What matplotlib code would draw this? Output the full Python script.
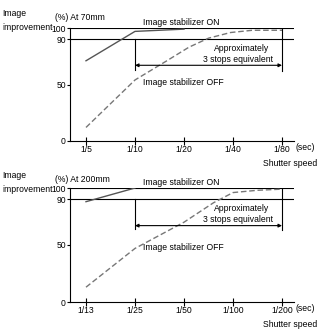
import matplotlib
matplotlib.use("Agg")
import matplotlib.pyplot as plt

plt.rcParams['font.family'] = ['Liberation Sans', 'DejaVu Sans']

# Data
top_ticks = ["1/5", "1/10", "1/20", "1/40", "1/80"]
bot_ticks = ["1/13", "1/25", "1/50", "1/100", "1/200"]
yticks = [0, 50, 90, 100]

top_on_x = [0, 1, 2]
top_on_y = [71, 97, 99]
top_off_x = [0, 1, 1.65, 2.1, 2.5, 2.95, 3.4, 4]
top_off_y = [12, 54, 71, 83, 91, 96, 98, 98]

bot_on_x = [0, 1]
bot_on_y = [88, 100]
bot_off_x = [0, 1, 2, 2.6, 3, 3.5, 4]
bot_off_y = [13, 47, 70, 87, 96, 98, 99]

W = 330.0
FS = 6.2

def make(ax_top_px, ax_bot_px, ticks, on_x, on_y, off_x, off_y, arrow_y, off_lbl_y, vl_bottom):
    ax = fig.add_axes([70 / W, (W - ax_bot_px) / W, 224 / W, (ax_bot_px - ax_top_px) / W])
    ax.set_xlim(-16 / 49, 208 / 49)
    ax.set_ylim(0, 100)
    for s in ["top", "right"]:
        ax.spines[s].set_visible(False)
    for s in ["left", "bottom"]:
        ax.spines[s].set_linewidth(0.8)
    ax.set_xticks(range(len(ticks)))
    ax.set_xticklabels(ticks, fontsize=FS)
    ax.set_yticks(yticks)
    ax.set_yticklabels([str(v) for v in yticks], fontsize=FS)
    ax.tick_params(axis="x", direction="inout", length=6, width=0.8, pad=0)
    ax.tick_params(axis="y", direction="out", length=2, width=0.8, pad=1)
    ax.axhline(100, color="black", lw=0.8)
    ax.axhline(90, color="black", lw=0.8)
    ax.plot(on_x, on_y, color="#555555", lw=1.0)
    ax.plot(off_x, off_y, color="#777777", lw=1.0, ls=(0, (4, 2)))
    ax.plot([1, 1], [90, vl_bottom], color="black", lw=0.8)
    ax.plot([4, 4], [100, vl_bottom - 1], color="black", lw=0.8)
    ax.annotate("", xy=(1, arrow_y), xytext=(4, arrow_y),
                arrowprops=dict(arrowstyle="<|-|>", color="black", lw=0.8,
                                mutation_scale=5, shrinkA=0, shrinkB=0))
    ax.text(1.16, 101, "Image stabilizer ON", fontsize=FS, va="bottom", ha="left")
    ax.text(1.16, off_lbl_y, "Image stabilizer OFF", fontsize=FS, va="center", ha="left")
    ax.text(3.73, 82, "Approximately", fontsize=FS, va="center", ha="right")
    ax.text(3.82, 72, "3 stops equivalent", fontsize=FS, va="center", ha="right")
    ax.text(4.27, -2, "(sec)", fontsize=FS, va="top", ha="left")
    ax.text(4.72, -16, "Shutter speed", fontsize=FS, va="top", ha="right")
    return ax

fig = plt.figure(figsize=(3.3, 3.3), dpi=100)
fig.text(2 / W, 1 - 13 / W, "Image", fontsize=FS, va="center", ha="left")
fig.text(2 / W, 1 - 27 / W, "improvement", fontsize=FS, va="center", ha="left")
fig.text(55 / W, 1 - 18 / W, "(%) At 70mm", fontsize=FS, va="center", ha="left")
fig.text(2 / W, 1 - 176 / W, "Image", fontsize=FS, va="center", ha="left")
fig.text(2 / W, 1 - 189 / W, "improvement", fontsize=FS, va="center", ha="left")
fig.text(55 / W, 1 - 180 / W, "(%) At 200mm", fontsize=FS, va="center", ha="left")

make(28, 141, top_ticks, top_on_x, top_on_y, top_off_x, top_off_y, 67, 52, 63)
make(188, 302, bot_ticks, bot_on_x, bot_on_y, bot_off_x, bot_off_y, 67, 48, 64)

fig.savefig("out.png", dpi=100)
